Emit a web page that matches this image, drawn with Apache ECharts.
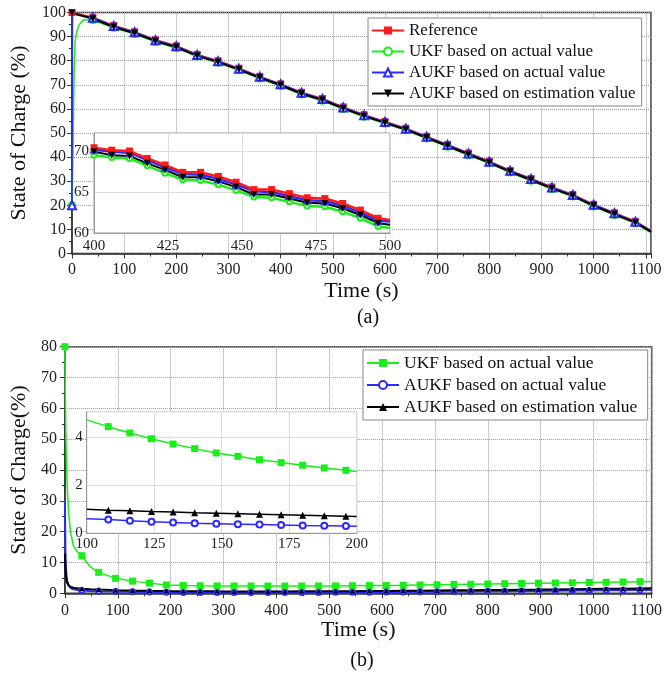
<!DOCTYPE html>
<html lang="en">
<head>
    <meta charset="UTF-8">
    <title>State of Charge estimation</title>
    <script src="https://cdn.jsdelivr.net/npm/echarts@6/dist/echarts.min.js"></script>
    <style>
        body { margin: 0; background: #fff; }
        #chart { width: 665px; height: 679px; }
    </style>
</head>
<body>
    <div id="chart"></div>

    <script>
        // ---- (a) main plot: SOC vs time ----
        const timeA = [0, 40, 80, 120, 160, 200, 240, 280, 320, 360, 400, 440, 480, 520, 560, 600, 640, 680, 720, 760, 800, 840, 880, 920, 960, 1000, 1040, 1080, 1110];
        const refA = [100, 98.0, 94.6, 92.0, 88.7, 86.2, 82.6, 80.0, 76.9, 73.5, 70.4, 66.9, 64.3, 60.8, 57.6, 54.8, 52.0, 48.6, 45.2, 41.7, 38.3, 34.5, 31.1, 27.6, 24.5, 20.4, 16.9, 13.4, 9.6];
        const estA = [99.8, 97.4, 94.0, 91.4, 88.1, 85.6, 82.0, 79.4, 76.3, 72.9, 69.8, 66.3, 63.7, 60.2, 57.0, 54.2, 51.4, 48.0, 44.6, 41.1, 37.7, 33.9, 30.5, 27.0, 23.9, 19.8, 16.3, 12.8, 9.0];
        const timeAukfA = [0, 1, 40, 80, 120, 160, 200, 240, 280, 320, 360, 400, 440, 480, 520, 560, 600, 640, 680, 720, 760, 800, 840, 880, 920, 960, 1000, 1040, 1080, 1110];
        const aukfA = [20, 99.6, 97.8, 94.4, 91.8, 88.5, 86.0, 82.4, 79.8, 76.7, 73.3, 70.2, 66.7, 64.1, 60.6, 57.4, 54.6, 51.8, 48.4, 45.0, 41.5, 38.1, 34.3, 30.9, 27.4, 24.3, 20.2, 16.7, 13.2, 9.4];
        const timeUkfA = [0, 2, 4, 6, 9, 14, 22, 40, 80, 120, 160, 200, 240, 280, 320, 360, 400, 440, 480, 520, 560, 600, 640, 680, 720, 760, 800, 840, 880, 920, 960, 1000, 1040, 1080, 1110];
        const ukfA = [20, 45, 75, 88, 92, 95, 97, 96.8, 93.7, 91.1, 87.8, 85.3, 81.7, 79.1, 76.0, 72.6, 69.5, 66.0, 63.4, 59.9, 56.7, 53.9, 51.1, 47.7, 44.3, 40.8, 37.4, 33.6, 30.2, 26.7, 23.6, 19.5, 16.0, 12.5, 8.7];

        // (a) inset, 400-500 s
        const timeInA = [400, 406, 412, 418, 424, 430, 436, 442, 448, 454, 460, 466, 472, 478, 484, 490, 496, 500];
        const refInA = [70.4, 70.1, 70.0, 69.1, 68.3, 67.4, 67.4, 66.9, 66.2, 65.3, 65.3, 64.8, 64.3, 64.2, 63.6, 62.8, 61.8, 61.6];
        const aukfInA = [70.2, 69.9, 69.8, 68.9, 68.0, 67.2, 67.1, 66.6, 65.9, 65.1, 65.0, 64.5, 64.0, 63.9, 63.3, 62.5, 61.5, 61.4];
        const estInA = [69.9, 69.5, 69.4, 68.5, 67.7, 66.8, 66.8, 66.3, 65.6, 64.7, 64.7, 64.2, 63.7, 63.6, 63.0, 62.2, 61.2, 61.0];
        const ukfInA = [69.5, 69.2, 69.1, 68.2, 67.3, 66.5, 66.4, 65.9, 65.2, 64.4, 64.3, 63.8, 63.3, 63.2, 62.6, 61.8, 60.8, 60.6];

        // ---- (b) main plot: estimation error ----
        const timeB = [0, 1, 2, 4, 7, 11, 16, 23, 32, 48, 64, 96, 128, 160, 192, 224, 256, 288, 320, 352, 384, 416, 448, 480, 512, 544, 576, 608, 640, 672, 704, 736, 768, 800, 832, 864, 896, 928, 960, 992, 1024, 1056, 1088, 1110];
        const ukfB = [80, 62, 50, 36, 26, 19.5, 15.5, 13.5, 12.2, 8.6, 6.8, 4.85, 3.95, 3.3, 2.7, 2.55, 2.45, 2.4, 2.38, 2.36, 2.35, 2.35, 2.36, 2.38, 2.4, 2.45, 2.5, 2.55, 2.62, 2.7, 2.78, 2.86, 2.94, 3.02, 3.1, 3.18, 3.26, 3.34, 3.42, 3.5, 3.58, 3.67, 3.76, 3.82];
        const aukfB = [30, 14, 8, 4.2, 2.5, 1.7, 1.3, 1.05, 0.9, 0.78, 0.7, 0.62, 0.5, 0.41, 0.33, 0.3, 0.28, 0.27, 0.26, 0.26, 0.26, 0.27, 0.28, 0.3, 0.32, 0.35, 0.38, 0.42, 0.46, 0.5, 0.54, 0.58, 0.62, 0.66, 0.7, 0.74, 0.78, 0.82, 0.87, 0.92, 0.97, 1.02, 1.07, 1.1];
        const estB = [13, 8, 5.5, 3.6, 2.6, 2.1, 1.8, 1.6, 1.45, 1.3, 1.2, 1.03, 0.9, 0.8, 0.72, 0.68, 0.65, 0.63, 0.62, 0.61, 0.61, 0.62, 0.63, 0.65, 0.67, 0.7, 0.73, 0.77, 0.81, 0.85, 0.9, 0.95, 1.0, 1.05, 1.1, 1.15, 1.2, 1.26, 1.32, 1.38, 1.44, 1.5, 1.56, 1.6];

        // (b) inset, 100-200 s
        const timeInB = [100, 108, 116, 124, 132, 140, 148, 156, 164, 172, 180, 188, 196, 200];
        const ukfInB = [4.7, 4.42, 4.16, 3.92, 3.70, 3.51, 3.33, 3.19, 3.05, 2.93, 2.82, 2.71, 2.61, 2.56];
        const aukfInB = [0.6, 0.57, 0.52, 0.48, 0.45, 0.42, 0.40, 0.38, 0.36, 0.34, 0.32, 0.31, 0.30, 0.29];
        const estInB = [1.0, 0.96, 0.93, 0.90, 0.88, 0.85, 0.83, 0.81, 0.79, 0.77, 0.75, 0.73, 0.71, 0.70];

        const namesA = ['Reference', 'UKF based on actual value', 'AUKF based on actual value', 'AUKF based on estimation value'];
        // trailing space keeps the (b) legend icons separate from the (a) ones
        const namesB = ['UKF based on actual value ', 'AUKF based on actual value ', 'AUKF based on estimation value '];

        const FONT = 'Liberation Serif';
        const RED = '#ff1a1a', GREEN = '#19ee19', BLUE = '#2b2bff', BLACK = '#000';

        // points; a marker is drawn only where mark(x) is true
        function points(xs, ys, mark) {
            return xs.map((x, i) => mark(x) ? [x, ys[i]] : { value: [x, ys[i]], symbol: 'none' });
        }

        function line(name, idx, xs, ys, mark, color, symbol, size, width, extra) {
            return Object.assign({
                name: name,
                type: 'line',
                xAxisIndex: idx,
                yAxisIndex: idx,
                data: points(xs, ys, mark),
                symbol: symbol,
                symbolSize: size,
                showAllSymbol: true,
                lineStyle: { color: color, width: width },
                itemStyle: { color: color },
                emphasis: { disabled: true },
                z: idx % 2 ? 12 : 2
            }, extra || {});
        }

        const plain = v => String(v);

        function mainX(idx, max, gap, margin) {
            return {
                gridIndex: idx, type: 'value', min: 0, max: max, interval: 100,
                name: 'Time (s)', nameLocation: 'middle', nameGap: gap,
                nameTextStyle: { fontSize: 22, color: '#111', fontFamily: FONT },
                axisLine: { lineStyle: { color: '#333', width: 1.5 } },
                axisTick: { length: 5, lineStyle: { color: '#333' } },
                minorTick: { show: true, splitNumber: 2, length: 3, lineStyle: { color: '#333' } },
                axisLabel: { fontSize: 16, color: '#222', margin: margin, fontFamily: FONT, showMaxLabel: false, formatter: plain },
                splitLine: { lineStyle: { type: 'dotted', color: '#999' } }
            };
        }

        function mainY(idx, max, name, gap, margin) {
            return {
                gridIndex: idx, type: 'value', min: 0, max: max, interval: 10,
                name: name, nameLocation: 'middle', nameGap: gap,
                nameTextStyle: { fontSize: 22, color: '#111', fontFamily: FONT },
                axisLine: { lineStyle: { color: '#333', width: 1.5 } },
                axisTick: { length: 5, lineStyle: { color: '#333' } },
                minorTick: { show: true, splitNumber: 2, length: 3, lineStyle: { color: '#333' } },
                axisLabel: { fontSize: 16, color: '#222', margin: margin, fontFamily: FONT },
                splitLine: { lineStyle: { type: 'dotted', color: '#999' } }
            };
        }

        function insetAxis(idx, min, max, interval, margin, hideMax) {
            return {
                gridIndex: idx, type: 'value', min: min, max: max, interval: interval, z: 11,
                axisLine: { lineStyle: { color: '#999' } },
                axisTick: { show: false },
                axisLabel: { fontSize: 15, color: '#222', margin: margin, fontFamily: FONT, showMaxLabel: !hideMax },
                splitLine: { lineStyle: { color: '#ddd' } }
            };
        }

        function legend(left, top, names, size) {
            return {
                orient: 'vertical', left: left, top: top,
                data: names,
                itemWidth: 32, itemHeight: 10, itemGap: 4,
                padding: [4, 6, 4, 3],
                backgroundColor: '#fff', borderColor: '#888', borderWidth: 1,
                textStyle: { fontSize: size, color: '#111', fontFamily: FONT },
                selectedMode: false, z: 20
            };
        }

        function main() {
            const chart = echarts.init(document.getElementById('chart'));
            const every40 = x => x % 40 === 0;
            const every32 = x => x % 32 === 0;
            const after0 = x => x > 0 && x % 32 === 0;
            const inA = x => x !== 500;
            const inB = x => x !== 100 && x !== 200;

            const option = {
                animation: false,
                textStyle: { fontFamily: FONT },
                grid: [
                    { left: 70.5, top: 12.5, width: 580.5, height: 241, show: true, borderColor: '#333', borderWidth: 1.5, backgroundColor: '#fff' },
                    { left: 94, top: 133, width: 296, height: 100, show: true, borderColor: '#999', borderWidth: 1, backgroundColor: '#fff', z: 10 },
                    { left: 59, top: 346.7, width: 593, height: 246.6, show: true, borderColor: '#333', borderWidth: 1.5, backgroundColor: '#fff' },
                    { left: 86.7, top: 411.7, width: 270, height: 121.6, show: true, borderColor: '#999', borderWidth: 1, backgroundColor: '#fff', z: 10 }
                ],
                xAxis: [
                    mainX(0, 1110, 27, 8),
                    insetAxis(1, 400, 500, 25, 6, false),
                    mainX(2, 1110, 26, 9),
                    insetAxis(3, 100, 200, 25, 3, false)
                ],
                yAxis: [
                    mainY(0, 100, 'State of Charge (%)', 42, 6),
                    insetAxis(1, 60, 72.2, 5, 5, true),
                    mainY(2, 80, 'State of Charge(%)', 33, 8),
                    insetAxis(3, 0, 5.04, 2, 4, true)
                ],
                legend: [
                    legend(368, 18, namesA, 17),
                    legend(363, 350, namesB, 17.5)
                ],
                graphic: [
                    { type: 'text', x: 368, y: 318, style: { text: '(a)', font: '20px "Liberation Serif"', textAlign: 'center', textVerticalAlign: 'middle', fill: '#111' } },
                    { type: 'text', x: 362, y: 661, style: { text: '(b)', font: '20px "Liberation Serif"', textAlign: 'center', textVerticalAlign: 'middle', fill: '#111' } }
                ],
                series: [
                    // (a) main
                    line(namesA[0], 0, timeA, refA, every40, RED, 'rect', 7, 1.5),
                    line(namesA[1], 0, timeUkfA, ukfA, every40, GREEN, 'emptyCircle', 6, 1.5),
                    line(namesA[2], 0, timeAukfA, aukfA, every40, BLUE, 'emptyTriangle', 8, 1.5),
                    line(namesA[3], 0, timeA, estA, every40, BLACK, 'triangle', 7, 2, { symbolRotate: 180 }),
                    // (a) inset
                    line(namesA[1], 1, timeInA, ukfInA, inA, GREEN, 'emptyCircle', 5, 2.5),
                    line(namesA[2], 1, timeInA, aukfInA, inA, BLUE, 'emptyTriangle', 6, 2.5),
                    line(namesA[0], 1, timeInA, refInA, inA, RED, 'rect', 7, 2.5),
                    line(namesA[3], 1, timeInA, estInA, inA, BLACK, 'triangle', 7, 2, { symbolRotate: 180 }),
                    // (b) main
                    line(namesB[0], 2, timeB, ukfB, every32, GREEN, 'rect', 7, 1.5),
                    line(namesB[1], 2, timeB, aukfB, after0, BLUE, 'emptyCircle', 5, 2),
                    line(namesB[2], 2, timeB, estB, after0, BLACK, 'triangle', 5, 2),
                    // (b) inset
                    line(namesB[0], 3, timeInB, ukfInB, inB, GREEN, 'rect', 7, 1.5),
                    line(namesB[1], 3, timeInB, aukfInB, inB, BLUE, 'emptyCircle', 6, 1.5),
                    line(namesB[2], 3, timeInB, estInB, inB, BLACK, 'triangle', 7, 1.5)
                ]
            };
            chart.setOption(option);
        }

        window.onload = main;
    </script>
</body>
</html>
